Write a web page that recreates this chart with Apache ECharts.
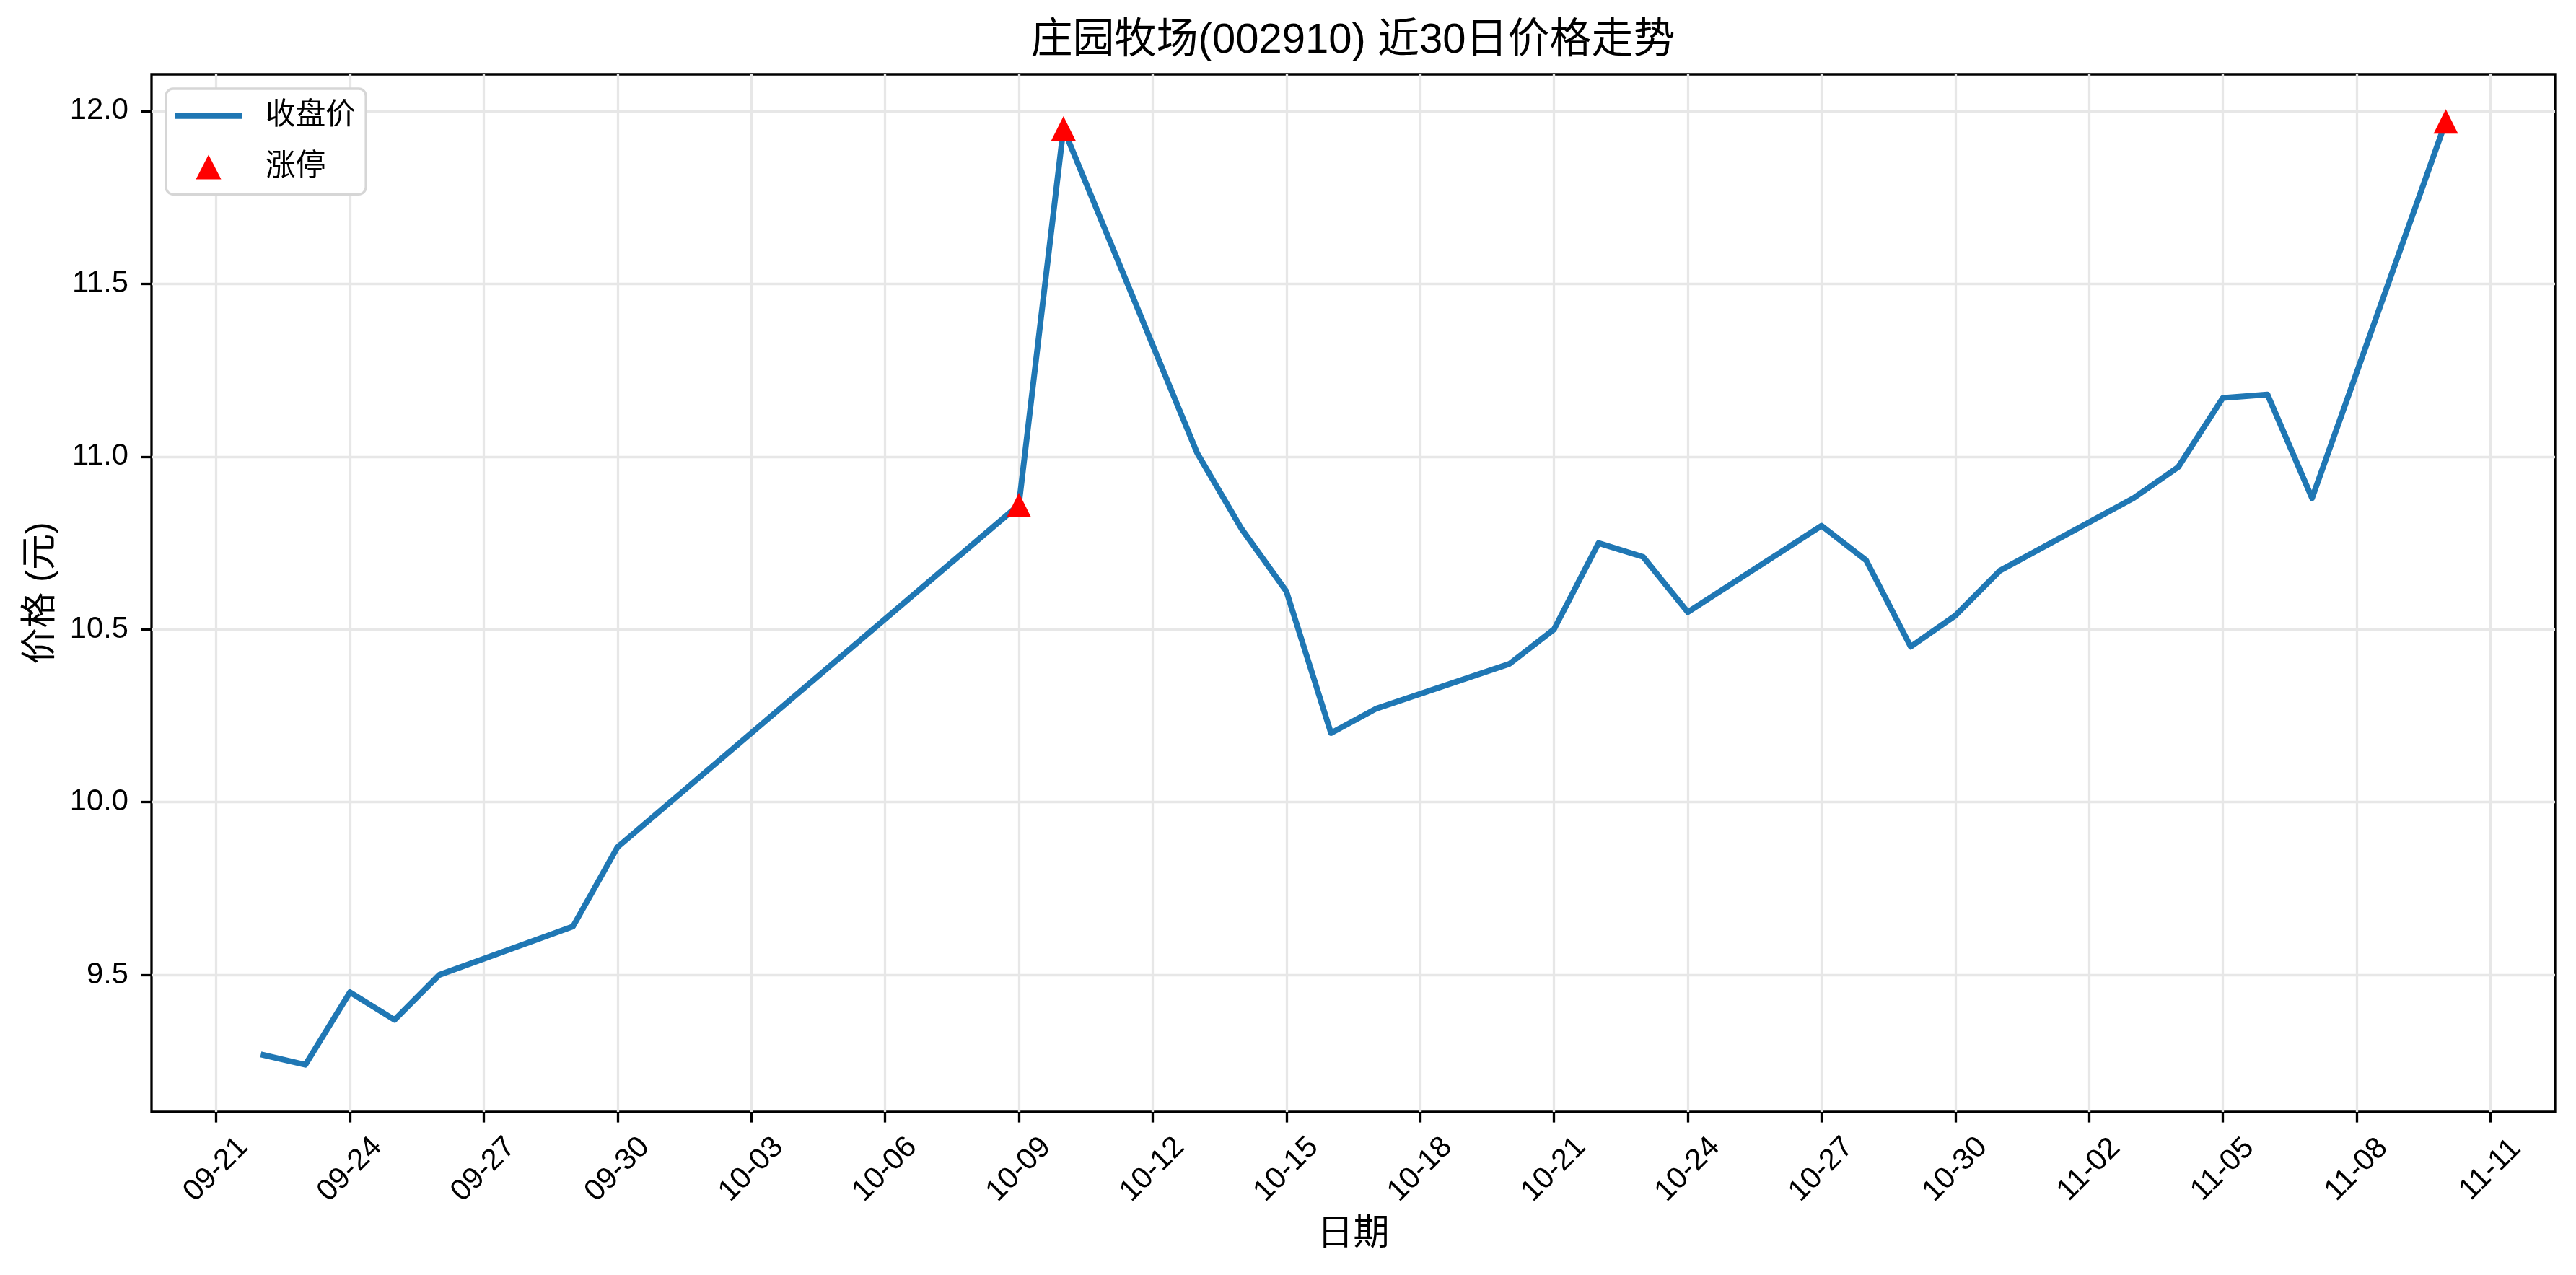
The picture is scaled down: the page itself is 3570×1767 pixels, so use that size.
<!DOCTYPE html>
<html>
<head>
<meta charset="utf-8">
<title>庄园牧场(002910) 近30日价格走势</title>
<script src="https://cdn.jsdelivr.net/npm/echarts@6.0.0/dist/echarts.min.js"></script>
<style>
html, body { margin: 0; padding: 0; background: #fff; }
#chart { width: 3570px; height: 1767px; }
</style>
</head>
<body>
<div id="chart"></div>
<script>
// 交易日 (2025) 与收盘价
const dates = ['09-22', '09-23', '09-24', '09-25', '09-26', '09-29', '09-30',
  '10-09', '10-10', '10-13', '10-14', '10-15', '10-16', '10-17',
  '10-20', '10-21', '10-22', '10-23', '10-24',
  '10-27', '10-28', '10-29', '10-30', '10-31',
  '11-03', '11-04', '11-05', '11-06', '11-07', '11-10'];
const closes = [9.27, 9.24, 9.45, 9.37, 9.50, 9.64, 9.87,
  10.86, 11.95, 11.01, 10.79, 10.61, 10.20, 10.27,
  10.40, 10.50, 10.75, 10.71, 10.55,
  10.80, 10.70, 10.45, 10.54, 10.67,
  10.88, 10.97, 11.17, 11.18, 10.88, 11.97];
const limitUpDates = ['10-09', '10-10', '11-10'];
const xTickLabels = ['09-21', '09-24', '09-27', '09-30', '10-03', '10-06', '10-09',
  '10-12', '10-15', '10-18', '10-21', '10-24', '10-27', '10-30',
  '11-02', '11-05', '11-08', '11-11'];
const yTickValues = [9.5, 10.0, 10.5, 11.0, 11.5, 12.0];

const YEAR = 2025;
const BASE = Date.UTC(YEAR, 8, 21);
const DAY = 86400000;
const FONT = '"Liberation Sans", "Noto Sans CJK SC", sans-serif';

function pad(n) { return (n < 10 ? '0' : '') + n; }
// 日期 -> 距 09-21 的天数
function dayOffset(md) {
  const [m, d] = md.split('-').map(Number);
  return (Date.UTC(YEAR, m - 1, d) - BASE) / DAY;
}
function offsetLabel(v) {
  const t = new Date(BASE + Math.round(v) * DAY);
  return pad(t.getUTCMonth() + 1) + '-' + pad(t.getUTCDate());
}

const lineData = dates.map((d, i) => [dayOffset(d), closes[i]]);
const limitData = limitUpDates.map(d => [dayOffset(d), closes[dates.indexOf(d)]]);

// matplotlib 默认 5% 边距
const xs = lineData.map(p => p[0]);
const xMin = Math.min(...xs), xMax = Math.max(...xs);
const xPad = (xMax - xMin) * 0.05;
const yMin = Math.min(...closes), yMax = Math.max(...closes);
const yPad = (yMax - yMin) * 0.05;

const chart = echarts.init(document.getElementById('chart'), null, { renderer: 'canvas' });
const option = {
  backgroundColor: '#ffffff',
  animation: false,
  title: {
    text: '庄园牧场(002910) 近30日价格走势',
    left: 1875,
    top: 28,
    padding: 0,
    textAlign: 'center',
    textStyle: { fontFamily: FONT, fontSize: 58, fontWeight: 'normal', color: '#000' }
  },
  legend: {
    orient: 'vertical',
    left: 230,
    top: 123,
    padding: [17, 14, 17, 13],
    itemWidth: 92,
    itemHeight: 34,
    itemGap: 29,
    backgroundColor: '#fff',
    borderColor: '#d6d6d6',
    borderWidth: 3.3,
    borderRadius: 10,
    itemStyle: { borderWidth: 0 },
    textStyle: { fontFamily: FONT, fontSize: 41.7, color: '#000', padding: [0, 0, 0, 28] },
    data: [
      { name: '收盘价', icon: 'path://M0,0H92V8H0Z' },
      { name: '涨停', icon: 'path://M17,0L34,33L0,33Z' }
    ]
  },
  grid: {
    left: 210,
    right: 29,
    top: 103,
    bottom: 226,
    show: true,
    borderColor: '#000',
    borderWidth: 3.3,
    outerBoundsMode: 'none'
  },
  xAxis: {
    type: 'value',
    min: xMin - xPad,
    max: xMax + xPad,
    name: '日期',
    nameLocation: 'middle',
    nameGap: 145,
    nameTextStyle: { fontFamily: FONT, fontSize: 50, color: '#000' },
    axisLine: { show: false, onZero: false },
    axisTick: {
      show: true, length: 14.6, lineStyle: { color: '#000', width: 3.3 },
      customValues: xTickLabels.map(dayOffset)
    },
    axisLabel: {
      customValues: xTickLabels.map(dayOffset),
      formatter: v => offsetLabel(v),
      rotate: 45,
      align: 'center',
      verticalAlign: 'middle',
      margin: 80,
      hideOverlap: false,
      fontFamily: FONT, fontSize: 41.7, color: '#000'
    },
    splitLine: { show: true, lineStyle: { color: '#e7e7e7', width: 3.3 } }
  },
  yAxis: {
    type: 'value',
    min: yMin - yPad,
    max: yMax + yPad,
    name: '价格 (元)',
    nameLocation: 'middle',
    nameRotate: 90,
    nameGap: 128,
    nameTextStyle: { fontFamily: FONT, fontSize: 50, color: '#000' },
    axisLine: { show: false, onZero: false },
    axisTick: {
      show: true, length: 14.6, lineStyle: { color: '#000', width: 3.3 },
      customValues: yTickValues
    },
    axisLabel: {
      customValues: yTickValues,
      formatter: v => v.toFixed(1),
      margin: 32,
      fontFamily: FONT, fontSize: 41.7, color: '#000'
    },
    splitLine: { show: true, lineStyle: { color: '#e7e7e7', width: 3.3 } }
  },
  series: [
    {
      name: '收盘价',
      type: 'line',
      data: lineData,
      showSymbol: false,
      symbol: 'none',
      color: '#1f77b4',
      itemStyle: { color: '#1f77b4' },
      lineStyle: { color: '#1f77b4', width: 8, join: 'round', cap: 'butt' },
      z: 2
    },
    {
      name: '涨停',
      type: 'scatter',
      data: limitData,
      symbol: 'triangle',
      symbolSize: 34,
      color: '#ff0000',
      itemStyle: { color: '#ff0000', opacity: 1 },
      z: 3
    }
  ]
};
chart.setOption(option);
</script>
</body>
</html>
